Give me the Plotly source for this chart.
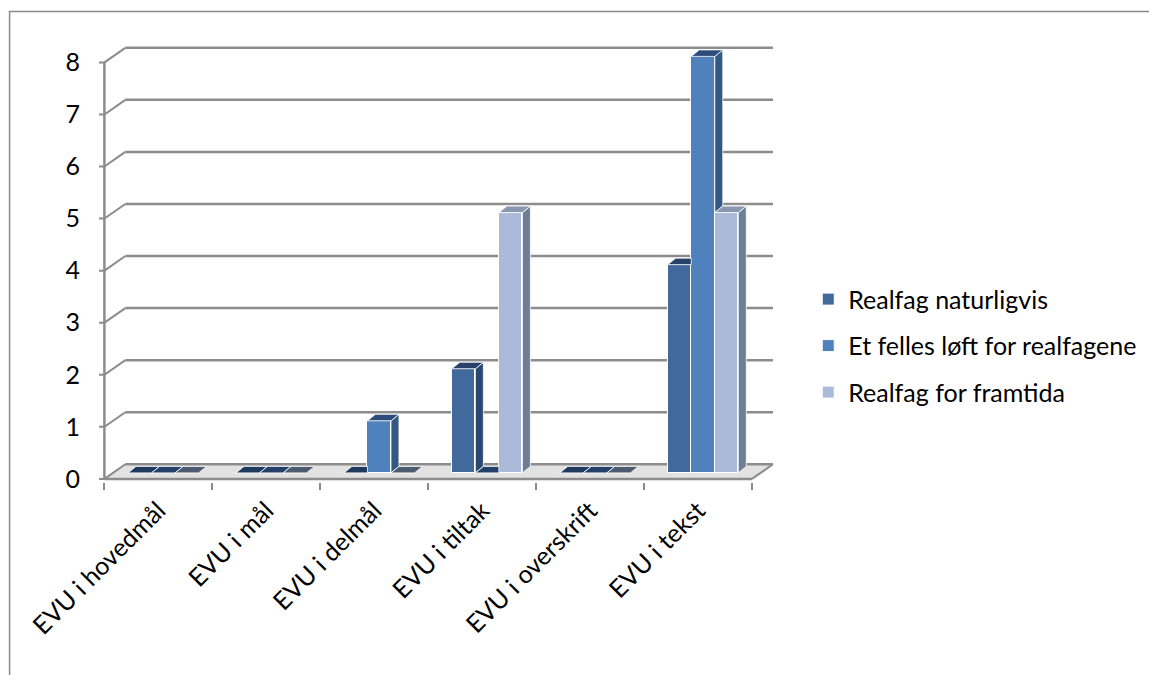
import plotly.graph_objects as go

# ---------------- data ----------------
categories = ["EVU i hovedmål", "EVU i mål", "EVU i delmål",
              "EVU i tiltak", "EVU i overskrift", "EVU i tekst"]
series_names = ["Realfag naturligvis", "Et felles løft for realfagene", "Realfag for framtida"]
realfag_naturligvis = [0, 0, 0, 2, 0, 4]
et_felles_loft = [0, 0, 1, 0, 0, 8]
realfag_for_framtida = [0, 0, 0, 5, 0, 5]
y_ticks = [0, 1, 2, 3, 4, 5, 6, 7, 8]

series_values = [realfag_naturligvis, et_felles_loft, realfag_for_framtida]

# ---------------- style ----------------
front_colors = ['#41699B', '#4F81BD', '#ABBAD8']
side_colors = ['#2B4872', '#345884', '#707E95']
top_colors = ['#26426A', '#2C4C7C', '#8896AF']
zero_colors = ['#1F3A5F', '#22406A', '#4C5B70']
GRID = '#8C8C8C'
FONT = 'Lato'
FS = 25

W = 0.218      # bar width (category units)
SX = 0.046     # cluster shift into depth (x)
B0 = 0.115     # cluster shift into depth (y)
DDX = 0.074    # bar depth x
DDY = 0.125    # bar depth y
DXB = 0.194    # back wall offset x
DYB = 0.28     # back wall offset y

n = len(categories)
ymax = y_ticks[-1]

fig = go.Figure()

# front faces (real bars)
for s, vals in enumerate(series_values):
    xs = [i + 0.5 + SX + (s - 1) * W for i in range(n)]
    fig.add_trace(go.Bar(
        x=xs, y=vals, base=[B0] * n, width=W, name=series_names[s],
        legendgroup=f"g{s}",
        marker=dict(color=front_colors[s], line=dict(color='white', width=1)),
        hoverinfo='skip'))

# side and top faces, computed from the values
for s, vals in enumerate(series_values):
    sx, sy, tx, ty, zx, zy = [], [], [], [], [], []
    for i in range(n):
        v = vals[i]
        vn = series_values[s + 1][i] if s + 1 < len(series_values) else 0
        c = i + 0.5 + SX + (s - 1) * W
        xl, xr = c - W / 2, c + W / 2
        # side face (visible part above the next bar)
        if v > vn:
            sx += [xr, xr, xr + DDX, xr + DDX, xr, None]
            sy += [B0 + vn, B0 + v, B0 + v + DDY, B0 + vn + DDY, B0 + vn, None]
        # top face
        if vn > v:
            px = [xl, xr, xr, xl + DDX, xl, None]
            py = [B0 + v, B0 + v, B0 + v + DDY, B0 + v + DDY, B0 + v, None]
        else:
            px = [xl, xr, xr + DDX, xl + DDX, xl, None]
            py = [B0 + v, B0 + v, B0 + v + DDY, B0 + v + DDY, B0 + v, None]
        if v == 0:
            zx += px
            zy += py
        else:
            tx += px
            ty += py
    for X, Y, col in [(sx, sy, side_colors[s]), (tx, ty, top_colors[s]), (zx, zy, zero_colors[s])]:
        if X:
            fig.add_trace(go.Scatter(
                x=X, y=Y, mode='lines', fill='toself', fillcolor=col,
                line=dict(color='white', width=0.8), showlegend=False,
                hoverinfo='skip'))

# ---------------- 3D frame (back wall grid, floor, axes) ----------------
shapes = []
# floor
shapes.append(dict(type='path', xref='x', yref='y', layer='below',
                   path=f"M 0,0 L {n},0 L {n + DXB},{DYB} L {DXB},{DYB} Z",
                   fillcolor='#E2E2E2', line=dict(color='#A0A0A0', width=1)))
for k in y_ticks:
    # back wall grid line
    shapes.append(dict(type='line', xref='x', yref='y', layer='below',
                       x0=DXB, y0=k + DYB, x1=n + DXB, y1=k + DYB,
                       line=dict(color=GRID, width=2.5)))
    # tick mark + connector to back wall
    shapes.append(dict(type='path', xref='x', yref='y', layer='below',
                       path=f"M -0.065,{k} L 0,{k} L {DXB},{k + DYB}",
                       line=dict(color=GRID, width=2)))
# front vertical axis line
shapes.append(dict(type='line', xref='x', yref='y', layer='below',
                   x0=0, y0=0, x1=0, y1=ymax, line=dict(color=GRID, width=2.5)))
# front floor edge
shapes.append(dict(type='line', xref='x', yref='y', layer='below',
                   x0=0, y0=0, x1=n, y1=0, line=dict(color=GRID, width=2.5)))
shapes.append(dict(type='line', xref='x', yref='y', layer='below',
                   x0=n, y0=0, x1=n + DXB, y1=DYB, line=dict(color=GRID, width=2)))
# chart border
shapes.append(dict(type='rect', xref='paper', yref='paper', layer='below',
                   x0=-0.1315, y0=-0.5, x1=1.6, y1=1.0645,
                   line=dict(color='#8A8A8A', width=1.5), fillcolor='rgba(0,0,0,0)'))

fig.update_layout(
    width=1149, height=675,
    margin=dict(l=99, r=370, t=40, b=193, autoexpand=False),
    paper_bgcolor='white', plot_bgcolor='white',
    barmode='overlay', bargap=0,
    shapes=shapes,
    font=dict(family=FONT, size=FS, color='black'),
    showlegend=True,
    legend=dict(x=1.043, xanchor='left', y=0.308, yanchor='middle',
                font=dict(family=FONT, size=FS, color='black'),
                traceorder='grouped', tracegroupgap=11,
                bgcolor='rgba(0,0,0,0)'),
    xaxis=dict(range=[-0.05, 6.25], showgrid=False, zeroline=False, showline=False,
               automargin=False,
               tickmode='array', tickvals=[i + 0.5 for i in range(n)], ticktext=categories,
               tickangle=-45, ticks='', ticklabelstandoff=8,
               tickfont=dict(family=FONT, size=FS, color='black'),
               minor=dict(tickmode='linear', tick0=0, dtick=1, ticks='outside',
                          ticklen=7, tickwidth=2, tickcolor=GRID, showgrid=False)),
    yaxis=dict(range=[-0.06, 8.43], showgrid=False, zeroline=False, showline=False,
               automargin=False,
               tickmode='array', tickvals=y_ticks, ticks='', ticklabelstandoff=18,
               tickfont=dict(family=FONT, size=FS, color='black')),
)

fig.write_html("out.html")
